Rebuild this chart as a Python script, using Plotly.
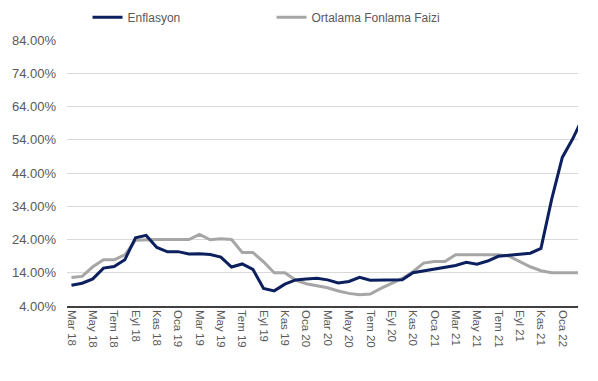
import plotly.graph_objects as go

months = [
    "Mar 18", "Nis 18", "May 18", "Haz 18", "Tem 18", "Ağu 18", "Eyl 18", "Eki 18", "Kas 18", "Ara 18",
    "Oca 19", "Şub 19", "Mar 19", "Nis 19", "May 19", "Haz 19", "Tem 19", "Ağu 19", "Eyl 19", "Eki 19", "Kas 19", "Ara 19",
    "Oca 20", "Şub 20", "Mar 20", "Nis 20", "May 20", "Haz 20", "Tem 20", "Ağu 20", "Eyl 20", "Eki 20", "Kas 20", "Ara 20",
    "Oca 21", "Şub 21", "Mar 21", "Nis 21", "May 21", "Haz 21", "Tem 21", "Ağu 21", "Eyl 21", "Eki 21", "Kas 21", "Ara 21",
    "Oca 22", "Şub 22", "Mar 22",
]

enflasyon = [
    10.23, 10.85, 12.15, 15.39, 15.85, 17.90, 24.52, 25.24, 21.62, 20.30,
    20.35, 19.67, 19.71, 19.50, 18.71, 15.72, 16.65, 15.01, 9.26, 8.55, 10.56, 11.84,
    12.15, 12.37, 11.86, 10.94, 11.39, 12.62, 11.76, 11.77, 11.75, 11.89, 14.03, 14.60,
    14.97, 15.61, 16.19, 17.14, 16.59, 17.53, 18.95, 19.25, 19.58, 19.89, 21.31, 36.08,
    48.69, 54.44, 61.14,
]

fonlama = [
    12.6, 12.9, 15.8, 17.9, 17.9, 19.4, 23.8, 24.0, 24.0, 24.0,
    24.0, 24.0, 25.5, 23.9, 24.2, 24.0, 20.1, 20.1, 17.3, 14.0, 14.0, 11.8,
    10.7, 10.2, 9.5, 8.5, 7.8, 7.4, 7.6, 9.3, 10.8, 12.3, 14.3, 16.9,
    17.4, 17.4, 19.4, 19.4, 19.4, 19.4, 19.4, 19.0, 17.4, 15.8, 14.6, 14.0,
    14.0, 14.0, 14.0,
]

tick_labels = months[::2]

fig = go.Figure()
fig.add_trace(go.Scatter(
    x=months, y=fonlama, mode="lines", name="Ortalama Fonlama Faizi",
    line=dict(color="#a6a6a6", width=3), legendrank=2,
))
fig.add_trace(go.Scatter(
    x=months, y=enflasyon, mode="lines", name="Enflasyon",
    line=dict(color="#0c1f5e", width=3), legendrank=1,
))

fig.update_layout(
    width=598, height=381,
    margin=dict(l=59, r=28, t=32, b=83, autoexpand=False),
    paper_bgcolor="white", plot_bgcolor="white",
    font=dict(family="Liberation Sans, Arial, sans-serif", color="#595959"),
    showlegend=True,
    legend=dict(
        orientation="h", xref="container", yref="container",
        x=0.133, xanchor="left", y=0.976, yanchor="middle",
        entrywidth=139, entrywidthmode="pixels",
        font=dict(size=12, color="#595959"), bgcolor="rgba(0,0,0,0)",
    ),
)
fig.update_xaxes(
    type="category", range=[-0.42, 47.47], automargin=False,
    tickmode="array", tickvals=tick_labels, ticktext=tick_labels,
    tickangle=90, tickfont=dict(size=11.5, color="#595959"),
    showgrid=False, showline=True, linecolor="#404040", linewidth=1.5,
    ticks="", zeroline=False,
)
fig.update_yaxes(
    range=[4, 84], dtick=10, tick0=4, tickformat=".2f", ticksuffix="%",
    tickfont=dict(size=13, color="#595959"), automargin=False,
    showgrid=True, gridcolor="#d9d9d9", gridwidth=1,
    showline=False, zeroline=False, ticks="", ticklabelstandoff=10,
)

fig.write_html("out.html")
